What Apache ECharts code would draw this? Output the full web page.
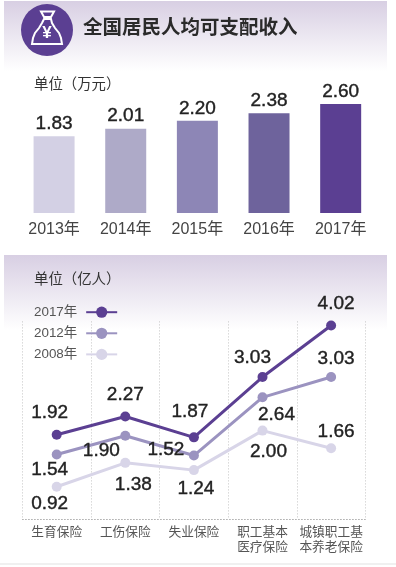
<!DOCTYPE html>
<html><head><meta charset="utf-8">
<style>html,body{margin:0;padding:0;background:#fff}#c{width:396px;height:567px}</style>
<script src="https://cdn.jsdelivr.net/npm/echarts@6/dist/echarts.min.js"></script>
</head><body><div id="c"></div>
<script>
var years = ['2013年','2014年','2015年','2016年','2017年'];
var income = [1.83,2.01,2.20,2.38,2.60];
var incomeLabels = ['1.83','2.01','2.20','2.38','2.60'];
var barColors = ['#d3d0e4','#aeaac8','#8d86b6','#6e639c','#5b3f92'];
var insurance = ['生育保险','工伤保险','失业保险','职工基本\n医疗保险','城镇职工基\n本养老保险'];
var people2017 = [1.92,2.27,1.87,3.03,4.02];
var people2012 = [1.54,1.90,1.52,2.64,3.03];
var people2008 = [0.92,1.38,1.24,2.00,1.66];
var offsets2017 = [[-7,-22],[0,-22],[-4,-26],[-10,-19],[5,-22]];
var offsets2012 = [[-7,15],[-24,15],[-28,-6],[14,17],[5,-18]];
var offsets2008 = [[-7,17],[8,22],[2,19],[6,21],[5,-17]];
var FONT = '"Liberation Sans","Noto Sans CJK SC",sans-serif';
var CJK = '"Noto Sans CJK SC","Liberation Sans",sans-serif';

function lineSeries(name, values, offsets, color){
  return {
    name:name, type:'line', xAxisIndex:1, yAxisIndex:1, symbol:'circle', symbolSize:10,
    lineStyle:{color:color,width:3}, itemStyle:{color:color}, silent:true,
    data: values.map(function(v,i){
      return {value:v, label:{show:true, position:'inside', offset:offsets[i],
        formatter:v.toFixed(2), fontFamily:FONT, fontSize:19, color:'#222',
        textBorderColor:'#222', textBorderWidth:0.4}};
    })
  };
}
function band(y,h){
  return {type:'rect', z:-10, shape:{x:4,y:y,width:383,height:h},
    style:{fill:new echarts.graphic.LinearGradient(0,0,0,1,[{offset:0,color:'#d8cfe3'},{offset:1,color:'#ffffff'}])}};
}
var chart = echarts.init(document.getElementById('c'),null,{renderer:'canvas'});
chart.setOption({
  animation:false, backgroundColor:'#fff',
  grid:[
    {left:18.25,width:358.25,top:104,height:109},
    {left:22.4,width:343,top:321.4,height:197.6}
  ],
  xAxis:[
    {gridIndex:0,type:'category',data:years,axisLine:{show:false},axisTick:{show:false},
      axisLabel:{margin:9,fontFamily:FONT,fontSize:16,color:'#444',interval:0}},
    {gridIndex:1,type:'category',data:insurance,
      axisLine:{lineStyle:{color:'#b5b5b5',type:[1,2],width:1}},axisTick:{show:false},
      splitLine:{show:true,interval:0,lineStyle:{color:'#c4c4c4',type:[1,2],width:1}},
      axisLabel:{margin:5,fontFamily:CJK,fontSize:12.7,lineHeight:15,color:'#555',interval:0}}
  ],
  yAxis:[
    {gridIndex:0,type:'value',min:0,max:2.6,show:false},
    {gridIndex:1,type:'value',min:0.3,max:4.1,show:false}
  ],
  legend:{left:34,top:305.5,padding:0,orient:'vertical',align:'right',itemWidth:31,itemHeight:14,itemGap:7.7,
    data:['2017年','2012年','2008年'],textStyle:{fontFamily:FONT,fontSize:13.4,color:'#555',padding:[0,4,0,0]}},
  series:[
    {type:'bar',xAxisIndex:0,yAxisIndex:0,barWidth:41,silent:true,
      data:income.map(function(v,i){return {value:v,itemStyle:{color:barColors[i]}};}),
      label:{show:true,position:'top',distance:3,fontFamily:FONT,fontSize:19,color:'#222',
        textBorderColor:'#222',textBorderWidth:0.4,
        formatter:function(p){return incomeLabels[p.dataIndex];}}},
    lineSeries('2008年',people2008,offsets2008,'#d8d5e8'),
    lineSeries('2012年',people2012,offsets2012,'#9b93c0'),
    lineSeries('2017年',people2017,offsets2017,'#5b3f92')
  ],
  graphic:[
    band(1,70), band(255,75),
    {type:'rect',z:-9,shape:{x:0,y:563.5,width:396,height:1},style:{fill:'#e2e2e2'}},
    {type:'circle',z:10,shape:{cx:47,cy:30,r:26},style:{fill:'#5b3f92'}},
    {type:'polygon',z:11,shape:{points:[[41,11.5],[54,11.5],[51,17],[44,17]]},style:{fill:'none',stroke:'#fff',lineWidth:2}},
    {type:'polygon',z:11,shape:{points:[[44,19],[51,19],[52,23],[55,28],[59,33],[61,38],[62,44],[32,44],[33,38],[35,33],[39,28],[42,23]]},style:{fill:'none',stroke:'#fff',lineWidth:2}},
    {type:'text',z:11,x:47,y:33,style:{text:'¥',fontFamily:FONT,fontSize:17,fontWeight:'bold',fill:'#fff',align:'center',verticalAlign:'middle'}},
    {type:'text',z:11,x:83,y:27,style:{text:'全国居民人均可支配收入',fontFamily:CJK,fontSize:19.5,fontWeight:'bold',fill:'#2a2a2a',align:'left',verticalAlign:'middle'}},
    {type:'text',z:11,x:34,y:84,style:{text:'单位（万元）',fontFamily:CJK,fontSize:14.4,fill:'#333',align:'left',verticalAlign:'middle'}},
    {type:'text',z:11,x:34,y:279,style:{text:'单位（亿人）',fontFamily:CJK,fontSize:14.4,fill:'#333',align:'left',verticalAlign:'middle'}}
  ]
});
</script></body></html>
